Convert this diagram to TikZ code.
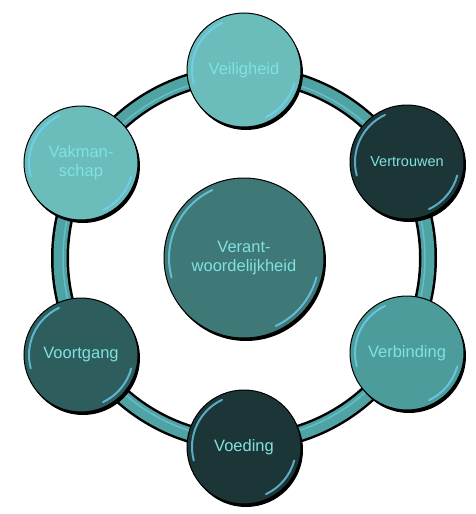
\documentclass[tikz,border=0pt]{standalone}
\usepackage{fontspec}
\setmainfont{Liberation Sans}
\usetikzlibrary{shadows}
\definecolor{lightteal}{HTML}{6BBDBC}
\definecolor{darkteal}{HTML}{1C3637}
\definecolor{midteal}{HTML}{4B9C9A}
\definecolor{deepteal}{HTML}{2D5D5D}
\definecolor{coreteal}{HTML}{3E7877}
\definecolor{ringteal}{HTML}{4FA3A2}
\definecolor{labelcyan}{HTML}{80E2DF}
\begin{document}
\begin{tikzpicture}[x=1pt,y=-1pt,
    bubble/.style={circle,draw=black,line width=1pt,minimum size=114pt,inner sep=0pt,
        align=center,text=labelcyan,font=\fontsize{16.5}{19}\selectfont,
        drop shadow={shadow xshift=2pt,shadow yshift=-3pt,fill=black,opacity=1}},
    gloss/.style={line width=2pt,color=cyan!55!white,opacity=.75,line cap=round},
    ringedge/.style={line width=18pt,black},
    ringband/.style={line width=13pt,ringteal}]
    \useasboundingbox (0,0) rectangle (475,514);
    % ring behind the bubbles
    \coordinate (hub) at (244,258);
    \draw[ringedge] (hub) circle (184);
    \draw[ringband] (hub) circle (184);
    \draw[line width=1.5pt,cyan!50!white,opacity=.5] (hub) circle (181);
    % bubbles
    \node[bubble,fill=lightteal] (veilig) at (244,70) {Veiligheid};
    \node[bubble,fill=darkteal,font=\fontsize{14.5}{17}\selectfont] (vertr) at (407,162) {Vertrouwen};
    \node[bubble,fill=midteal] (verbind) at (407,353) {Verbinding};
    \node[bubble,fill=darkteal] (voed) at (244,447) {Voeding};
    \node[bubble,fill=deepteal] (voortg) at (81,355) {Voortgang};
    \node[bubble,fill=lightteal] (vakman) at (81,163) {Vakman-\\schap};
    \node[bubble,fill=coreteal,minimum size=160pt] (core) at (hub) {Verant-\\woordelijkheid};
    % highlights on the rims
    \foreach \n/\r in {veilig/52pt,vertr/52pt,verbind/52pt,voed/52pt,voortg/52pt,vakman/52pt,core/75pt} {
        \draw[gloss] ([shift={(195:\r)}]\n.center) arc[start angle=195,end angle=115,radius=\r];
        \draw[gloss] ([shift={(-15:\r)}]\n.center) arc[start angle=-15,end angle=-65,radius=\r];
    }
\end{tikzpicture}
\end{document}
